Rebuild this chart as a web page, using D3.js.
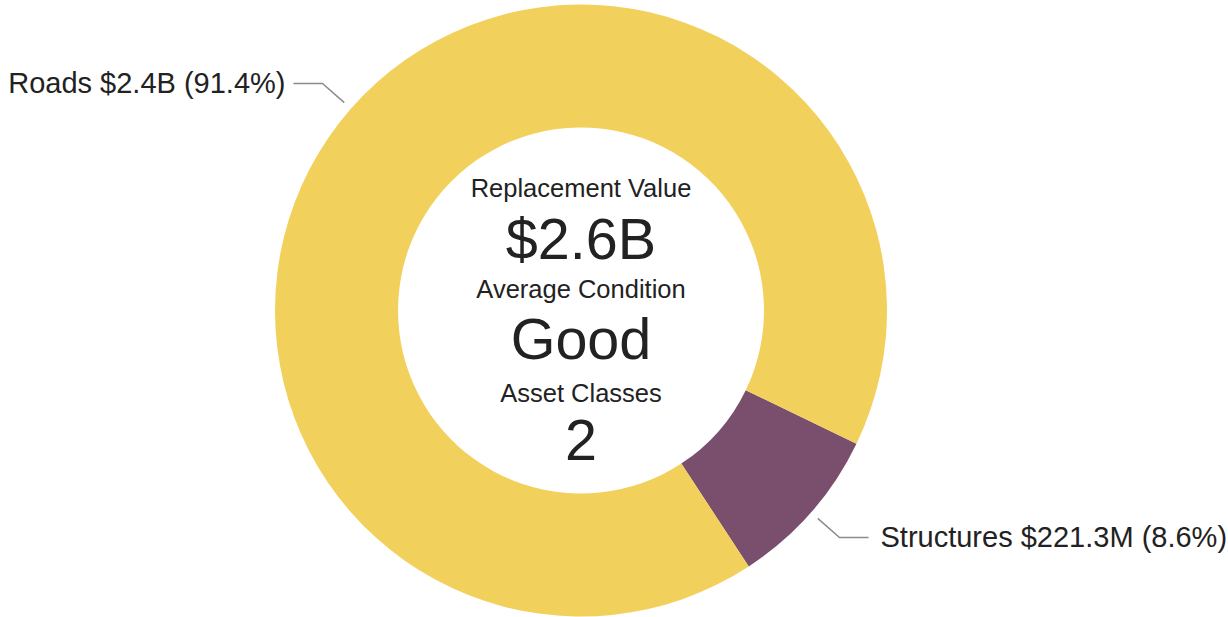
<!DOCTYPE html>
<html>
<head>
<meta charset="utf-8">
<script src="https://cdn.jsdelivr.net/npm/d3@7"></script>
<style>
  html, body { margin: 0; padding: 0; background: #fff; }
  svg { display: block; font-family: Arial, "Liberation Sans", sans-serif; }
</style>
</head>
<body>
<div id="chart"></div>
<script>
// asset classes and their replacement value (in $M)
var categories = ["Structures", "Roads"];
var values = [221.3, 2352.0];
var valueLabels = ["$221.3M", "$2.4B"];
var colors = ["#7A4F6E", "#F2D05C"];

// centre summary
var centerTitles = ["Replacement Value", "Average Condition", "Asset Classes"];
var centerValues = ["$2.6B", "Good", "2"];

var width = 1228, height = 617;
var cx = 581, cy = 310.5;
var outerR = 306, innerR = 183;

var svg = d3.select("#chart").append("svg")
    .attr("width", width)
    .attr("height", height);

var g = svg.append("g").attr("transform", "translate(" + cx + "," + cy + ")");

var start = 115.8 * Math.PI / 180;
var pie = d3.pie().sort(null).value(function(d){ return d; })
    .startAngle(start).endAngle(start + 2 * Math.PI);
var arcs = pie(values);
var total = d3.sum(values);

var arc = d3.arc().innerRadius(innerR).outerRadius(outerR);

g.selectAll("path.slice").data(arcs).enter().append("path")
    .attr("class", "slice")
    .attr("d", arc)
    .attr("fill", function(d, i){ return colors[i]; });

// leader lines + labels
function pt(a, r){ return [Math.sin(a) * r, -Math.cos(a) * r]; }

arcs.forEach(function(d, i){
    var mid = (d.startAngle + d.endAngle) / 2;
    var p0 = pt(mid, outerR + 9);
    var p1 = pt(mid, outerR + 38);
    var right = Math.sin(mid) > 0;
    var p2 = [p1[0] + (right ? 29 : -29), p1[1]];

    g.append("polyline")
        .attr("points", [p0, p1, p2].map(function(p){ return p.join(","); }).join(" "))
        .attr("fill", "none")
        .attr("stroke", "#8c8c8c")
        .attr("stroke-width", 1.5);

    var pct = (d.value / total * 100).toFixed(1);
    g.append("text")
        .attr("x", p2[0] + (right ? 12 : -8))
        .attr("y", p2[1])
        .attr("dy", "0.34em")
        .attr("text-anchor", right ? "start" : "end")
        .attr("font-size", 29)
        .attr("fill", "#222")
        .text(categories[i] + " " + valueLabels[i] + " (" + pct + "%)");
});

// centre text
var titleY = [196.7, 297.7, 401.7];
var valueY = [259, 359, 460];
centerTitles.forEach(function(t, i){
    svg.append("text")
        .attr("x", cx).attr("y", titleY[i])
        .attr("text-anchor", "middle")
        .attr("font-size", 25.5)
        .attr("fill", "#222")
        .text(t);
    svg.append("text")
        .attr("x", cx).attr("y", valueY[i])
        .attr("text-anchor", "middle")
        .attr("font-size", 57.5)
        .attr("fill", "#222")
        .text(centerValues[i]);
});
</script>
</body>
</html>
